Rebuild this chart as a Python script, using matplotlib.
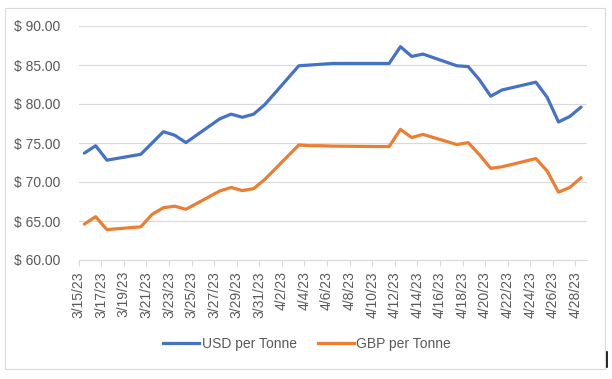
import matplotlib
matplotlib.use("Agg")
import matplotlib.pyplot as plt
import pandas as pd
from matplotlib.lines import Line2D
from matplotlib.patches import Rectangle

# trading days
dates = ["3/15/23", "3/16/23", "3/17/23", "3/20/23", "3/21/23", "3/22/23", "3/23/23",
         "3/24/23", "3/27/23", "3/28/23", "3/29/23", "3/30/23", "3/31/23", "4/3/23",
         "4/4/23", "4/5/23", "4/6/23", "4/10/23", "4/11/23", "4/12/23", "4/13/23",
         "4/14/23", "4/17/23", "4/18/23", "4/19/23", "4/20/23", "4/21/23", "4/24/23",
         "4/25/23", "4/26/23", "4/27/23", "4/28/23"]
usd = [73.7, 74.65, 72.8, 73.55, 75.0, 76.45, 76.0,
       75.05, 78.1, 78.7, 78.3, 78.7, 79.95, 84.9,
       85.0, 85.1, 85.2, 85.2, 85.2, 87.35, 86.1,
       86.4, 84.9, 84.8, 83.1, 81.0, 81.8, 82.8,
       80.85, 77.7, 78.4, 79.6]
gbp = [64.6, 65.55, 63.9, 64.25, 65.85, 66.7, 66.9,
       66.5, 68.85, 69.3, 68.9, 69.15, 70.35, 74.75,
       74.65, 74.65, 74.6, 74.55, 74.55, 76.75, 75.7,
       76.1, 74.8, 75.05, 73.5, 71.75, 71.95, 73.0,
       71.4, 68.7, 69.3, 70.55]
y_ticks = [60, 65, 70, 75, 80, 85, 90]

BLUE = "#4472C4"
ORANGE = "#ED7D31"
GREY_TXT = "#595959"
GRID = "#D9D9D9"
FS = 10

plt.rcParams["font.family"] = ["Liberation Sans", "DejaVu Sans"]

dt = pd.to_datetime(dates, format="%m/%d/%y")
start = dt[0]
x = [(d - start).days + 0.5 for d in dt]   # points sit in the middle of each day
n_days = (dt[-1] - start).days + 1
tick_pos = list(range(0, n_days, 2))
tick_lbl = [f"{(start + pd.Timedelta(days=t)).month}/{(start + pd.Timedelta(days=t)).day}/23"
            for t in tick_pos]

fig = plt.figure(figsize=(6.12, 3.79), dpi=100)
fig.patches.append(Rectangle((5 / 612, 1 - 369 / 379), 600 / 612, 361 / 379,
                             transform=fig.transFigure, fill=False,
                             edgecolor=GRID, linewidth=0.8))

ax = fig.add_axes([78.7 / 612, 1 - 260 / 379, 508 / 612, 234 / 379])
ax.plot(x, usd, color=BLUE, lw=2.3, solid_joinstyle="round", solid_capstyle="round")
ax.plot(x, gbp, color=ORANGE, lw=2.3, solid_joinstyle="round", solid_capstyle="round")

ax.set_xlim(0, n_days)
ax.set_ylim(60, 90)
ax.set_yticks(y_ticks)
ax.set_yticklabels([f"$ {v:.2f}" for v in y_ticks])
ax.set_xticks(tick_pos)
ax.set_xticklabels(tick_lbl, rotation=90)
ax.tick_params(axis="y", length=0, pad=13, labelsize=FS, labelcolor=GREY_TXT)
ax.tick_params(axis="x", length=4, width=0.8, color=GRID, pad=4,
               labelsize=FS, labelcolor=GREY_TXT)
ax.grid(axis="y", color=GRID, lw=0.8)
ax.set_axisbelow(True)
for s in ["top", "right", "left"]:
    ax.spines[s].set_visible(False)
ax.spines["bottom"].set_color(GRID)
ax.spines["bottom"].set_linewidth(0.8)

handles = [Line2D([], [], color=BLUE, lw=2.3), Line2D([], [], color=ORANGE, lw=2.3)]
fig.legend(handles, ["USD per Tonne", "GBP per Tonne"], ncol=2, frameon=False,
           loc="center", bbox_to_anchor=(307 / 612, 1 - 344 / 379),
           fontsize=FS, labelcolor=GREY_TXT, handlelength=2.6, handletextpad=0.2,
           columnspacing=1.5)

# stray cursor mark at the right edge of the screenshot
fig.add_artist(Line2D([607 / 612, 607 / 612], [1 - 367 / 379, 1 - 352 / 379],
                      transform=fig.transFigure, color="black", lw=1.2))

fig.savefig("out.png", dpi=100)
